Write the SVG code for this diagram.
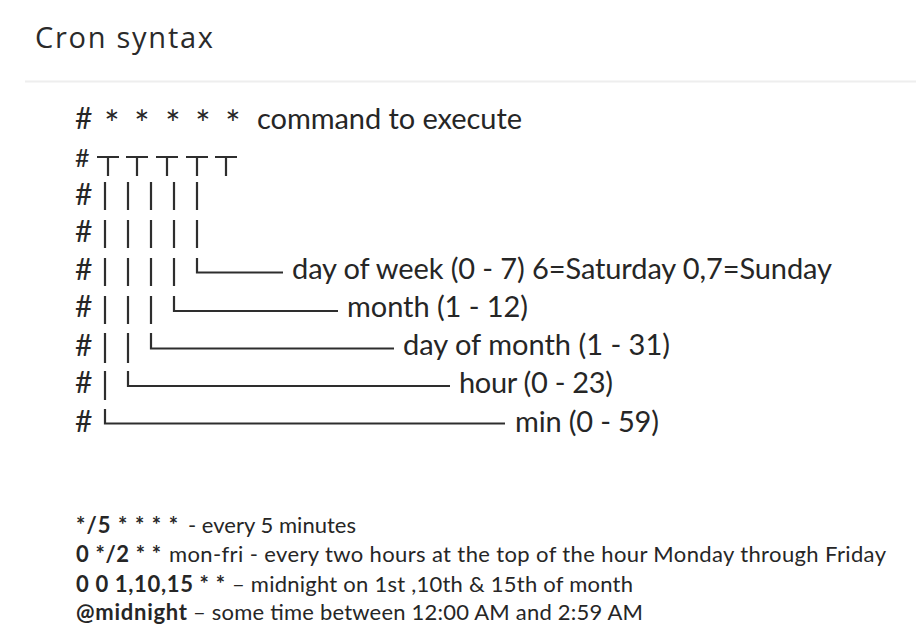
<svg xmlns="http://www.w3.org/2000/svg" width="916" height="630" viewBox="0 0 916 630">
<style>
.t{font-family:Lato,"Liberation Sans",sans-serif;fill:#262626}
.m{font-size:29px}
.h{font-size:30px}
.s{font-size:22px;white-space:pre}
.b{font-weight:bold}
.a{font-size:36px}
.ln{stroke:#2e2e2e;stroke-width:2.2;fill:none}
</style>
<rect width="916" height="630" fill="#ffffff"/>
<g id="title">
<text x="35" y="48" font-family="'Open Sans','Noto Sans',sans-serif" font-size="29" fill="#2a2a2a" textLength="178" lengthAdjust="spacing">Cron syntax</text>
<line x1="25" y1="81.5" x2="916" y2="81.5" stroke="#eeeeee" stroke-width="2"/>
</g>
<g id="hashes" class="t h">
<text x="75" y="129">#</text>
<text x="75" y="167" font-size="25">#</text>
<text x="75" y="205">#</text>
<text x="75" y="242">#</text>
<text x="75" y="280">#</text>
<text x="75" y="317">#</text>
<text x="75" y="356">#</text>
<text x="75" y="393">#</text>
<text x="75" y="432">#</text>
</g>
<g id="header" class="t m">
<text class="a" x="112" y="137" text-anchor="middle">*</text>
<text class="a" x="142" y="137" text-anchor="middle">*</text>
<text class="a" x="173" y="137" text-anchor="middle">*</text>
<text class="a" x="203" y="137" text-anchor="middle">*</text>
<text class="a" x="233" y="137" text-anchor="middle">*</text>
<text x="257" y="129" textLength="265" lengthAdjust="spacing">command to execute</text>
</g>
<g id="connectors" class="ln">
<path d="M97 157H119M108 157V176M126 157H148M137 157V176M156 157H178M167 157V176M186 157H208M197 157V176M215 157H237M226 157V176"/>
<path d="M105 182V210M128 182V210M151 182V210M174 182V210M197 182V210"/>
<path d="M105 220V248M128 220V248M151 220V248M174 220V248M197 220V248"/>
<path d="M105 258V286M128 258V286M151 258V286M174 258V286"/>
<path d="M197 258V272.5H283"/>
<path d="M105 296V324M128 296V324M151 296V324"/>
<path d="M174 296V311H338"/>
<path d="M105 333V363M128 333V363"/>
<path d="M151 333V348.5H394"/>
<path d="M105 371V400"/>
<path d="M128 371V386H450"/>
<path d="M105 409V423.5H505"/>
</g>
<g id="labels" class="t m">
<text x="292" y="279" textLength="540" lengthAdjust="spacing">day of week (0 - 7) 6=Saturday 0,7=Sunday</text>
<text x="347" y="317" textLength="181" lengthAdjust="spacing">month (1 - 12)</text>
<text x="403" y="355" textLength="267" lengthAdjust="spacing">day of month (1 - 31)</text>
<text x="459" y="393" textLength="154" lengthAdjust="spacing">hour (0 - 23)</text>
<text x="515" y="432" textLength="144" lengthAdjust="spacing">min (0 - 59)</text>
</g>
<g id="examples" class="t s">
<text class="b" x="76" y="533" textLength="102" lengthAdjust="spacing">*/5 * * * *</text>
<text x="188" y="533" textLength="168" lengthAdjust="spacing">- every 5 minutes</text>
<text class="b" x="76" y="562" textLength="85" lengthAdjust="spacing">0 */2 * *</text>
<text x="169" y="562" textLength="717" lengthAdjust="spacing">mon-fri  - every two hours at the top of the hour Monday through Friday</text>
<text class="b" x="76" y="592" textLength="149" lengthAdjust="spacing">0 0 1,10,15  * *</text>
<text x="232" y="592" textLength="401" lengthAdjust="spacing">– midnight on 1st ,10th &amp; 15th of month</text>
<text class="b" x="76" y="620" textLength="111" lengthAdjust="spacing">@midnight</text>
<text x="193" y="620" textLength="450" lengthAdjust="spacing">– some time between 12:00 AM and 2:59 AM</text>
</g>
</svg>
